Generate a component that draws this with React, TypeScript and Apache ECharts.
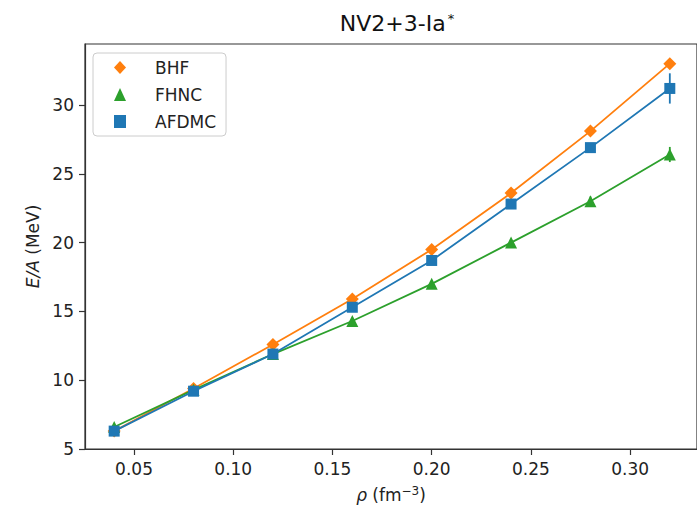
import React, { useEffect, useRef } from "react";
import * as echarts from "echarts";

const densities = [0.04, 0.08, 0.12, 0.16, 0.2, 0.24, 0.28, 0.32];
const bhf = [6.3, 9.4, 12.6, 15.9, 19.5, 23.6, 28.1, 33.0];
const fhnc = [6.6, 9.3, 11.9, 14.3, 17.0, 20.0, 23.0, 26.4];
const fhncErr = [0.05, 0.05, 0.1, 0.15, 0.2, 0.25, 0.35, 0.55];
const afdmc = [6.3, 9.2, 11.9, 15.3, 18.7, 22.8, 26.9, 31.2];
const afdmcErr = [0.05, 0.05, 0.1, 0.15, 0.2, 0.25, 0.3, 1.1];
const xTicks = [0.05, 0.1, 0.15, 0.2, 0.25, 0.3];
const yTicks = [5, 10, 15, 20, 25, 30];

const ORANGE = "#ff7f0e";
const GREEN = "#2ca02c";
const BLUE = "#1f77b4";
const FONT = "DejaVu Sans";

function errSeries(name: string, vals: number[], errs: number[], color: string, z: number) {
  return {
    type: "custom",
    name,
    z,
    data: densities.map((x, i) => [x, vals[i] - errs[i], vals[i] + errs[i]]),
    renderItem: (params: any, api: any) => {
      const p1 = api.coord([api.value(0), api.value(1)]);
      const p2 = api.coord([api.value(0), api.value(2)]);
      return {
        type: "line",
        shape: { x1: p1[0], y1: p1[1], x2: p2[0], y2: p2[1] },
        style: { stroke: color, lineWidth: 1.8 },
      };
    },
  };
}

export default function App() {
  const ref = useRef<HTMLDivElement>(null);
  useEffect(() => {
    if (!ref.current) return;
    const chart = echarts.init(ref.current, null, { renderer: "svg" });
    chart.setOption({
      animation: false,
      backgroundColor: "#fff",
      textStyle: { fontFamily: FONT },
      graphic: [
        {
          type: "text",
          x: 397,
          y: 23,
          style: {
            text: "NV2+3-Ia{s|*}",
            font: `22px '${FONT}'`,
            fill: "#111",
            textAlign: "center",
            textVerticalAlign: "middle",
            rich: { s: { fontSize: 13, fontFamily: FONT, verticalAlign: "top", padding: [0, 0, 10, 2], fill: "#111" } },
          },
        },
      ],
      grid: {
        left: 85,
        top: 44,
        bottom: 63,
        right: -13,
        show: true,
        borderColor: "#333",
        borderWidth: 1.2,
        containLabel: false,
      },
      legend: {
        orient: "vertical",
        left: 93,
        top: 53,
        padding: [6, 10, 6, 21],
        itemGap: 10,
        itemWidth: 12,
        itemHeight: 13,
        backgroundColor: "rgba(255,255,255,0.85)",
        borderColor: "#ccc",
        borderWidth: 1,
        borderRadius: 4,
        textStyle: { fontFamily: FONT, fontSize: 17, color: "#222", lineHeight: 17, padding: [0, 0, 0, 24] },
        data: [
          { name: "BHF", icon: "diamond" },
          { name: "FHNC", icon: "triangle" },
          { name: "AFDMC", icon: "rect" },
        ],
      },
      xAxis: {
        type: "value",
        min: 0.0253,
        max: 0.3337,
        name: "{i|ρ} (fm{s|−3})",
        nameLocation: "middle",
        nameGap: 36,
        nameTextStyle: {
          fontFamily: FONT,
          fontSize: 17,
          color: "#222",
          rich: {
            i: { fontStyle: "italic", fontSize: 17, fontFamily: FONT, color: "#222" },
            s: { fontSize: 12, fontFamily: FONT, color: "#222", verticalAlign: "top", padding: [0, 0, 8, 0] },
          },
        },
        splitLine: { show: false },
        axisLine: { lineStyle: { color: "#333", width: 1.2 } },
        axisTick: { show: true, length: 6, customValues: xTicks, lineStyle: { color: "#333", width: 1.2 } },
        axisLabel: {
          customValues: xTicks,
          formatter: (v: number) => v.toFixed(2),
          fontFamily: FONT,
          fontSize: 17,
          color: "#222",
          margin: 11,
        },
      },
      yAxis: {
        type: "value",
        min: 5,
        max: 34.43,
        name: "{i|E/A} (MeV)",
        nameLocation: "middle",
        nameGap: 44,
        nameTextStyle: {
          fontFamily: FONT,
          fontSize: 17,
          color: "#222",
          rich: { i: { fontStyle: "italic", fontSize: 17, fontFamily: FONT, color: "#222" } },
        },
        splitLine: { show: false },
        axisLine: { show: true, lineStyle: { color: "#333", width: 1.2 } },
        axisTick: { show: true, length: 6, customValues: yTicks, lineStyle: { color: "#333", width: 1.2 } },
        axisLabel: {
          customValues: yTicks,
          fontFamily: FONT,
          fontSize: 17,
          color: "#222",
          margin: 11,
        },
      },
      series: [
        errSeries("BHF-err", bhf, bhf.map(() => 0), ORANGE, 1),
        {
          type: "line",
          name: "BHF",
          z: 2,
          data: densities.map((x, i) => [x, bhf[i]]),
          symbol: "diamond",
          symbolSize: 13,
          itemStyle: { color: ORANGE },
          lineStyle: { color: ORANGE, width: 1.8 },
        },
        errSeries("FHNC-err", fhnc, fhncErr, GREEN, 3),
        {
          type: "line",
          name: "FHNC",
          z: 3,
          data: densities.map((x, i) => [x, fhnc[i]]),
          symbol: "triangle",
          symbolSize: 12,
          itemStyle: { color: GREEN },
          lineStyle: { color: GREEN, width: 1.8 },
        },
        errSeries("AFDMC-err", afdmc, afdmcErr, BLUE, 4),
        {
          type: "line",
          name: "AFDMC",
          z: 4,
          data: densities.map((x, i) => [x, afdmc[i]]),
          symbol: "rect",
          symbolSize: 11,
          itemStyle: { color: BLUE },
          lineStyle: { color: BLUE, width: 1.8 },
        },
      ],
    });
    return () => chart.dispose();
  }, []);
  return (
    <div
      ref={ref}
      style={{ position: "fixed", left: 0, top: 0, width: 697, height: 512, overflow: "hidden" }}
    />
  );
}
